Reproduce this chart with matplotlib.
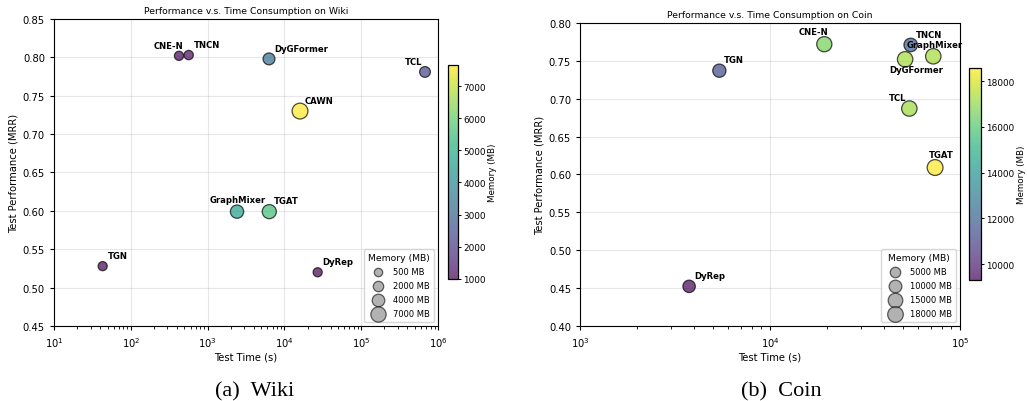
import numpy as np
import matplotlib
matplotlib.use("Agg")
import matplotlib.pyplot as plt
from matplotlib.colors import Normalize

# ---- Wiki ----
wiki_models = ['TGN', 'CNE-N', 'TNCN', 'DyGFormer', 'CAWN', 'TCL', 'GraphMixer', 'TGAT', 'DyRep']
wiki_time = [43, 424, 567, 6300, 15960, 677000, 2415, 6350, 27100]
wiki_mrr = [0.528, 0.802, 0.803, 0.798, 0.730, 0.781, 0.599, 0.599, 0.520]
wiki_mem = [1000, 1050, 1150, 3300, 7660, 2300, 4700, 5600, 990]
wiki_legend_mem = [500, 2000, 4000, 7000]

# ---- Coin ----
coin_models = ['TGN', 'CNE-N', 'TNCN', 'GraphMixer', 'DyGFormer', 'TCL', 'TGAT', 'DyRep']
coin_time = [5410, 19300, 55000, 72300, 51400, 54100, 73900, 3750]
coin_mrr = [0.737, 0.772, 0.771, 0.756, 0.752, 0.687, 0.609, 0.452]
coin_mem = [11300, 16600, 12000, 17300, 17300, 17200, 18580, 9310]
coin_legend_mem = [5000, 10000, 15000, 18000]

# label offsets (points) and alignment, default is up-right
DEFAULT_OFF = (3.5, 4.5, 'left')
wiki_offsets = {
    'CNE-N': (3, 4.5, 'right'),
    'TCL': (-2, 4.5, 'right'),
    'GraphMixer': (0.5, 5.5, 'center'),
}
coin_offsets = {
    'CNE-N': (3, 6, 'right'),
    'TCL': (-2.5, 5, 'right'),
    'GraphMixer': (1, 5.5, 'center'),
    'DyGFormer': (8, -10.5, 'center'),
    'TGAT': (4.5, 6, 'center'),
}


def size_of(mem, mem_max):
    return 30 + 100 * np.asarray(mem) / mem_max


def panel(fig, ax_rect, cax_rect, models, times, mrr, mem, legend_mem, offsets,
          title, xlim, ylim, yticks, caption, cap_x):
    ax = fig.add_axes(ax_rect)
    mem = np.asarray(mem, dtype=float)
    norm = Normalize(vmin=mem.min(), vmax=mem.max())
    sc = ax.scatter(times, mrr, c=mem, s=size_of(mem, mem.max()), cmap='viridis',
                    norm=norm, alpha=0.7, edgecolors='black', linewidths=0.9, zorder=3)
    for name, x, y in zip(models, times, mrr):
        dx, dy, ha = offsets.get(name, DEFAULT_OFF)
        ax.annotate(name, (x, y), xytext=(dx, dy), textcoords='offset points',
                    ha=ha, va='bottom', fontsize=6.1, fontweight='bold', zorder=4)
    ax.set_xscale('log')
    ax.set_xlim(*xlim)
    ax.set_ylim(*ylim)
    ax.set_yticks(yticks)
    ax.grid(True, alpha=0.3)
    ax.set_axisbelow(True)
    ax.tick_params(labelsize=7.2, length=3, width=0.8)
    ax.tick_params(which='minor', length=1.8, width=0.6)
    ax.set_xlabel('Test Time (s)', fontsize=7.2, labelpad=2)
    ax.set_ylabel('Test Performance (MRR)', fontsize=7.2, labelpad=3)
    ax.set_title(title, fontsize=6.7, pad=4)

    # size legend
    for m in legend_mem:
        ax.scatter([], [], s=size_of(m, mem.max()), c='gray', alpha=0.6,
                   edgecolors='black', linewidths=0.9, label=f'{m} MB')
    ax.legend(title='Memory (MB)', loc='lower right', fontsize=6.0,
              title_fontsize=6.7, labelspacing=0.6, borderpad=0.45,
              handlelength=2.3, handletextpad=0.7, framealpha=0.8,
              borderaxespad=0.5)

    cax = fig.add_axes(cax_rect)
    cb = fig.colorbar(sc, cax=cax)
    cb.set_label('Memory (MB)', fontsize=6.3, labelpad=1.5)
    cb.ax.tick_params(labelsize=6.4, length=2.5, width=0.7, pad=1.5)
    cb.outline.set_linewidth(0.9)

    fig.text(cap_x, 0.013, caption, ha='center', va='baseline',
             fontsize=16, family='Liberation Serif')
    return ax


fig = plt.figure(figsize=(10.27, 4.02), dpi=100)

panel(fig, [0.0526, 0.1866, 0.3739, 0.7637], [0.4362, 0.3035, 0.0097, 0.532],
      wiki_models, wiki_time, wiki_mrr, wiki_mem, wiki_legend_mem, wiki_offsets,
      'Performance v.s. Time Consumption on Wiki', (10, 1e6), (0.45, 0.85),
      np.arange(0.45, 0.851, 0.05), '(a)  Wiki', 0.248)

panel(fig, [0.5648, 0.1873, 0.37, 0.753], [0.9435, 0.301, 0.0117, 0.528],
      coin_models, coin_time, coin_mrr, coin_mem, coin_legend_mem, coin_offsets,
      'Performance v.s. Time Consumption on Coin', (1e3, 1e5), (0.40, 0.80),
      np.arange(0.40, 0.801, 0.05), '(b)  Coin', 0.761)

fig.savefig('out.png', dpi=100)
